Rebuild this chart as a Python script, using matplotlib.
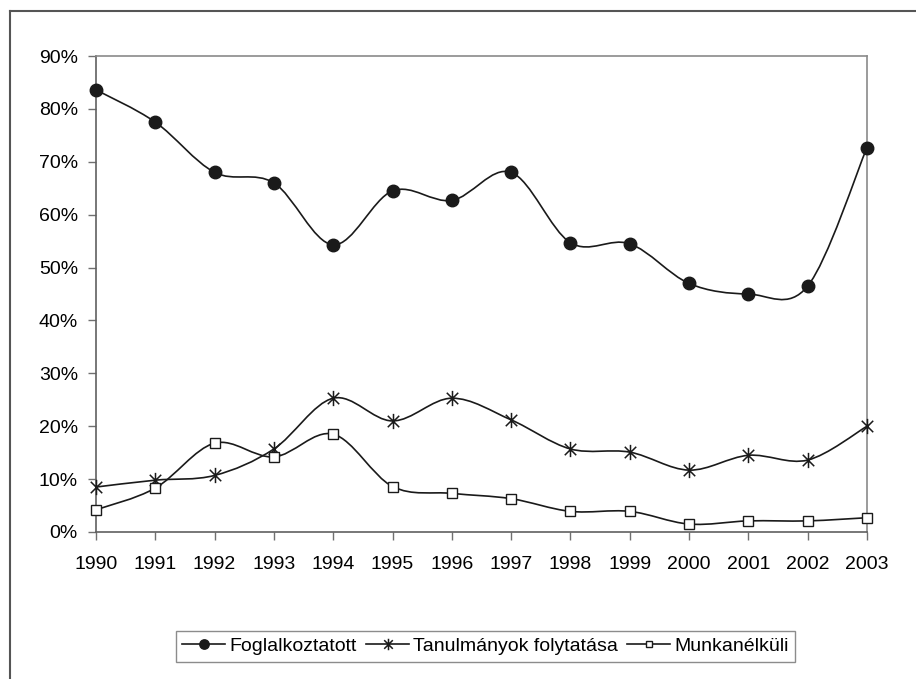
import numpy as np
import matplotlib
matplotlib.use("Agg")
from matplotlib import pyplot as plt
from matplotlib.path import Path
from matplotlib.patches import PathPatch
from matplotlib.lines import Line2D

years = [1990, 1991, 1992, 1993, 1994, 1995, 1996, 1997, 1998, 1999, 2000, 2001, 2002, 2003]
foglalkoztatott = [83.6, 77.5, 68.0, 66.0, 54.3, 64.5, 62.7, 68.0, 54.7, 54.5, 47.0, 45.0, 46.5, 72.7]
tanulmanyok = [8.5, 9.8, 10.7, 15.7, 25.3, 21.0, 25.3, 21.2, 15.7, 15.1, 11.7, 14.5, 13.6, 20.0]
munkanelkuli = [4.2, 8.3, 16.8, 14.2, 18.5, 8.6, 7.3, 6.3, 3.9, 3.9, 1.5, 2.1, 2.1, 2.7]
labels = ["Foglalkoztatott", "Tanulmányok folytatása", "Munkanélküli"]

plt.rcParams["font.family"] = ["Liberation Sans", "DejaVu Sans"]

# excel-style asterisk: vertical bar plus an x
star = Path([(0, -1), (0, 1), (-0.75, -0.75), (0.75, 0.75), (-0.75, 0.75), (0.75, -0.75)],
            [Path.MOVETO, Path.LINETO, Path.MOVETO, Path.LINETO, Path.MOVETO, Path.LINETO])


def smooth_path(x, y):
    # catmull-rom through the points, as bezier segments
    pts = np.column_stack([x, y]).astype(float)
    verts = [pts[0]]
    codes = [Path.MOVETO]
    n = len(pts)
    for i in range(n - 1):
        p0 = pts[max(i - 1, 0)]
        p1 = pts[i]
        p2 = pts[i + 1]
        p3 = pts[min(i + 2, n - 1)]
        c1 = p1 + (p2 - p0) / 6.0
        c2 = p2 - (p3 - p1) / 6.0
        verts += [c1, c2, p2]
        codes += [Path.CURVE4] * 3
    return Path(verts, codes)


fig = plt.figure(figsize=(9.16, 6.79), dpi=100)
ax = fig.add_axes([0.1048, 0.2165, 0.8417, 0.701])

lc = "#1a1a1a"
styles = [
    dict(marker="o", markersize=9, markerfacecolor=lc, markeredgecolor=lc),
    dict(marker=star, markersize=11, markerfacecolor="none", markeredgecolor=lc, markeredgewidth=1.1),
    dict(marker="s", markersize=6.5, markerfacecolor="white", markeredgecolor=lc, markeredgewidth=1.0),
]
series = [foglalkoztatott, tanulmanyok, munkanelkuli]

handles = []
for vals, st, lab in zip(series, styles, labels):
    ax.add_patch(PathPatch(smooth_path(years, vals), facecolor="none", edgecolor=lc, lw=1.2))
    ax.plot(years, vals, linestyle="none", clip_on=False, zorder=5, **st)
    handles.append(Line2D([], [], color=lc, lw=1.2, label=lab, **st))

ax.set_xlim(1990, 2003)
ax.set_ylim(0, 90)
ax.set_xticks(years)
ax.set_yticks(range(0, 91, 10))
ax.set_yticklabels([f"{v}%" for v in range(0, 91, 10)])
ax.tick_params(direction="out", length=6, width=1, color="#707070", labelsize=14)
ax.tick_params(axis="x", pad=11)
ax.tick_params(axis="y", pad=7)
for s in ax.spines.values():
    s.set_color("#8a8a8a")
    s.set_linewidth(1.2)
ax.spines["left"].set_color("#606060")
ax.spines["bottom"].set_color("#606060")

# outer chart frame (left and top edges)
fig.add_artist(Line2D([10 / 916, 10 / 916], [0, 1 - 11 / 679], color="#555555", lw=1.5))
fig.add_artist(Line2D([10 / 916, 1], [1 - 11 / 679, 1 - 11 / 679], color="#555555", lw=1.5))

leg = fig.legend(handles=handles, loc="center", bbox_to_anchor=(0.53, 0.048), ncol=3,
                 fontsize=14, frameon=True, fancybox=False, edgecolor="#707070",
                 handlelength=2.2, handletextpad=0.2, columnspacing=0.5, markerscale=0.75,
                 borderpad=0.35, borderaxespad=0)
leg.get_frame().set_linewidth(1.0)

fig.savefig("out.png", dpi=100)
